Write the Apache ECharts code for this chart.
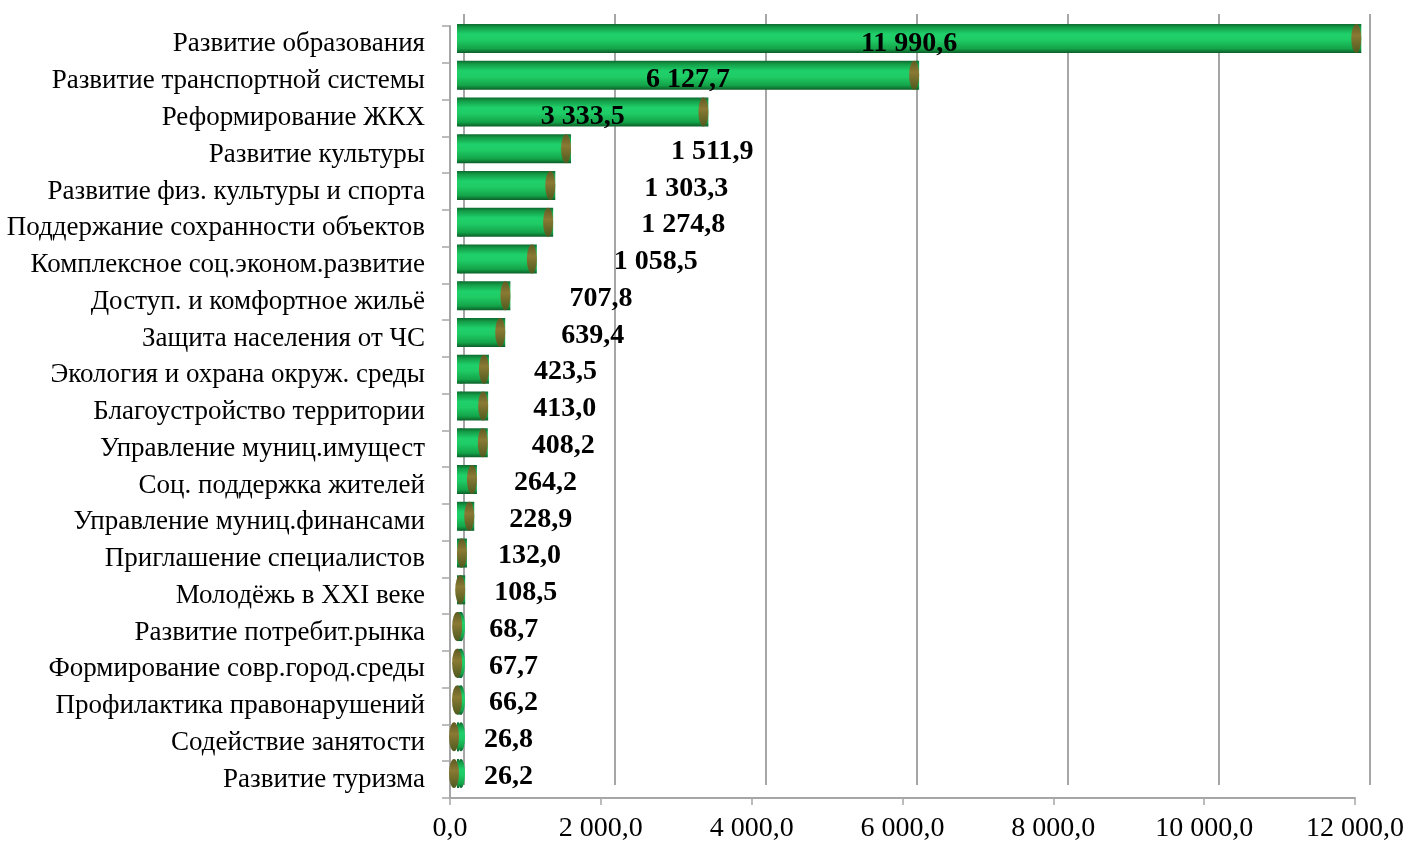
<!DOCTYPE html>
<html><head><meta charset="utf-8">
<script src="https://cdn.jsdelivr.net/npm/echarts@6/dist/echarts.min.js"></script>
<style>html,body{margin:0;padding:0;background:#fff}#c{width:1411px;height:845px}</style>
</head><body><div id="c"></div>
<script>
var categories = ["Развитие образования","Развитие транспортной системы","Реформирование ЖКХ","Развитие культуры","Развитие физ. культуры и спорта","Поддержание сохранности объектов","Комплексное соц.эконом.развитие","Доступ. и комфортное жильё","Защита населения от ЧС","Экология и охрана окруж. среды","Благоустройство территории","Управление муниц.имущест","Соц. поддержка жителей","Управление муниц.финансами","Приглашение специалистов","Молодёжь в XXI веке","Развитие потребит.рынка","Формирование совр.город.среды","Профилактика правонарушений","Содействие занятости","Развитие туризма"];
var values = [11990.6,6127.7,3333.5,1511.9,1303.3,1274.8,1058.5,707.8,639.4,423.5,413.0,408.2,264.2,228.9,132.0,108.5,68.7,67.7,66.2,26.8,26.2];
var axisMin = 0, axisMax = 12000, axisStep = 2000;

function fmt(v){
  var s = v.toFixed(1).split('.');
  var i = s[0].replace(/\B(?=(\d{3})+(?!\d))/g, ' ');
  return i + ',' + s[1];
}
var serif = '"Liberation Serif","Times New Roman",serif';
var barGrad = new echarts.graphic.LinearGradient(0,0,0,1,[
  {offset:0,color:'#0c6a2e'},{offset:0.12,color:'#149c47'},{offset:0.35,color:'#1fd06a'},
  {offset:0.55,color:'#1fcc66'},{offset:0.85,color:'#14a449'},{offset:1,color:'#0b5f29'}]);
var capGrad = new echarts.graphic.LinearGradient(0,0,0,1,[
  {offset:0,color:'#5e5a22'},{offset:0.4,color:'#8a7a34'},{offset:1,color:'#4e5a1e'}]);

var barData = values.map(function(v,i){
  return {value:v, label: i < 3 ? {position:'inside', offset:[0,5]}
                                : {position:'right', distance:Math.round(24 + 0.05*v), offset:[0,3]}};
});

var option = {
  animation:false,
  grid:[
    {left:450, right:56, top:26, bottom:47},
    {left:464, right:41, top:14, bottom:60},
    {left:457, right:49, top:20, bottom:53}
  ],
  xAxis:[
    {gridIndex:0, type:'value', min:axisMin, max:axisMax, interval:axisStep,
     axisLine:{show:true, lineStyle:{color:'#a6a6a6', width:2}},
     axisTick:{show:true, length:7, lineStyle:{color:'#a6a6a6', width:1.5}},
     splitLine:{show:false},
     axisLabel:{formatter:fmt, fontFamily:serif, fontSize:28, color:'#000', margin:17}},
    {gridIndex:1, type:'value', min:axisMin, max:axisMax, interval:axisStep,
     axisLine:{show:false}, axisTick:{show:false}, axisLabel:{show:false},
     splitLine:{show:true, lineStyle:{color:'#a6a6a6', width:2}}},
    {gridIndex:2, type:'value', min:axisMin, max:axisMax, interval:axisStep, show:false}
  ],
  yAxis:[
    {gridIndex:0, type:'category', data:categories, inverse:true,
     axisLine:{show:true, lineStyle:{color:'#a6a6a6', width:2}},
     axisTick:{show:true, length:8, lineStyle:{color:'#a6a6a6', width:1.5}},
     axisLabel:{fontFamily:serif, fontSize:27, color:'#000', margin:25, padding:[7,0,0,0]}},
    {gridIndex:1, type:'category', data:categories, inverse:true, show:false},
    {gridIndex:2, type:'category', data:categories, inverse:true, show:false}
  ],
  series:[
    {type:'bar', xAxisIndex:2, yAxisIndex:2, data:barData, barWidth:29,
     itemStyle:{color:barGrad},
     label:{show:true, formatter:function(p){return fmt(p.value);}, fontFamily:serif,
            fontWeight:'bold', fontSize:28, color:'#000'},
     z:3},
    {type:'pictorialBar', xAxisIndex:2, yAxisIndex:2, data:values, symbol:'circle',
     symbolSize:[10,29], symbolPosition:'end', symbolOffset:['0%',0],
     itemStyle:{color:capGrad}, z:4, silent:true},
    {type:'pictorialBar', xAxisIndex:2, yAxisIndex:2, data:values, symbol:'circle',
     symbolSize:[8,29], symbolPosition:'start', symbolOffset:['0%',0],
     itemStyle:{color:barGrad}, z:2, silent:true}
  ]
};
echarts.init(document.getElementById('c')).setOption(option);
</script></body></html>
